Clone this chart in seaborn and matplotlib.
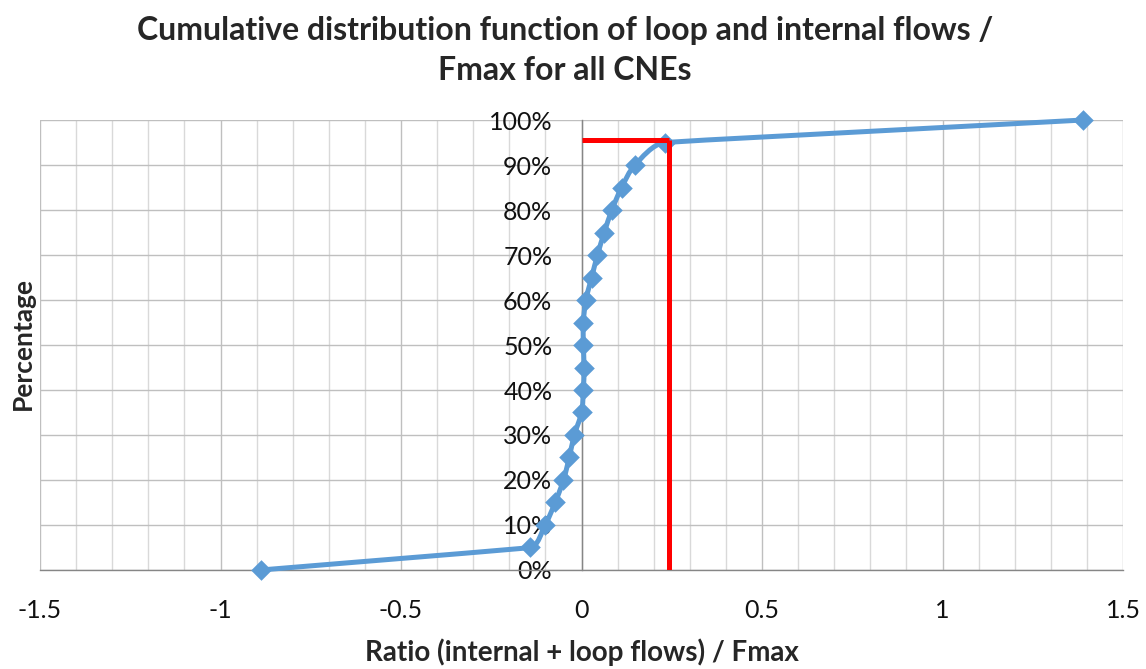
import matplotlib
matplotlib.use("Agg")
import matplotlib.pyplot as plt
from matplotlib.path import Path
from matplotlib.patches import PathPatch
from matplotlib.ticker import MultipleLocator, FuncFormatter
import numpy as np
import seaborn as sns
import pandas as pd

# Cumulative distribution of (internal + loop flows) / Fmax over all CNEs
ratio = [-0.888, -0.143, -0.101, -0.073, -0.050, -0.034, -0.020, 0.000, 0.005,
         0.007, 0.005, 0.005, 0.012, 0.028, 0.044, 0.063, 0.084, 0.111, 0.148,
         0.231, 1.389]
percentage = [0, 5, 10, 15, 20, 25, 30, 35, 40, 45, 50, 55, 60, 65, 70, 75, 80,
              85, 90, 95, 100]

# Highlighted 95th percentile marker
threshold_ratio = 0.242
threshold_pct = 95.5

x_ticks = [-1.5, -1.0, -0.5, 0.0, 0.5, 1.0, 1.5]
x_tick_labels = ["-1.5", "-1", "-0.5", "0", "0.5", "1", "1.5"]

LINE_BLUE = "#5b9bd5"

sns.set_theme(style="white")
plt.rcParams["font.family"] = ["Lato", "DejaVu Sans"]

df = pd.DataFrame({"ratio": ratio, "percentage": percentage})


def smooth_path(ax, xs, ys, k=1 / 3):
    """Smoothed curve through the points, built from cubic Bezier segments in
    screen space. Each handle follows the neighbour-to-neighbour tangent and
    its length is limited by the shorter of the two segments at that point."""
    pts = ax.transData.transform(np.column_stack([xs, ys]))
    n = len(pts)
    segs = [np.hypot(*(pts[i + 1] - pts[i])) for i in range(n - 1)]
    tang = []
    for i in range(n):
        a = pts[max(i - 1, 0)]
        b = pts[min(i + 1, n - 1)]
        d = b - a
        tang.append(d / np.hypot(*d))
    verts = [pts[0]]
    codes = [Path.MOVETO]
    for i in range(n - 1):
        out_len = min(segs[i], segs[i - 1]) if i > 0 else segs[i]
        in_len = min(segs[i], segs[i + 1]) if i + 1 < n - 1 else segs[i]
        verts += [pts[i] + tang[i] * out_len * k,
                  pts[i + 1] - tang[i + 1] * in_len * k,
                  pts[i + 1]]
        codes += [Path.CURVE4] * 3
    verts = ax.transData.inverted().transform(np.array(verts))
    return Path(verts, codes)


fig = plt.figure(figsize=(11.46, 6.69), dpi=100)
ax = fig.add_axes([0.0349, 0.148, 0.9451, 0.6726])

# grid: minor every 0.1, major every 0.5, horizontal every 10 %
ax.set_xlim(-1.5, 1.5)
ax.set_ylim(0, 100)
ax.xaxis.set_major_locator(MultipleLocator(0.5))
ax.xaxis.set_minor_locator(MultipleLocator(0.1))
ax.yaxis.set_major_locator(MultipleLocator(10))
ax.grid(which="minor", axis="x", color="#d9d9d9", linewidth=1.0)
ax.grid(which="major", axis="x", color="#bfbfbf", linewidth=1.0)
ax.grid(which="major", axis="y", color="#bfbfbf", linewidth=1.0)
ax.set_axisbelow(True)

# smoothed connecting line
ax.add_patch(PathPatch(smooth_path(ax, df["ratio"], df["percentage"]),
                       facecolor="none", edgecolor=LINE_BLUE, linewidth=3.6,
                       zorder=3, clip_on=False))

# diamond markers
sns.scatterplot(data=df, x="ratio", y="percentage", color=LINE_BLUE,
                marker="D", s=110, linewidth=0, ax=ax, clip_on=False,
                zorder=4, legend=False)

ax.plot([0, threshold_ratio], [threshold_pct, threshold_pct],
        color="#ff0000", linewidth=3.6, solid_capstyle="butt", zorder=5)
ax.plot([threshold_ratio, threshold_ratio], [0, threshold_pct],
        color="#ff0000", linewidth=3.6, solid_capstyle="butt", zorder=5)

for side in ("top", "right"):
    ax.spines[side].set_visible(False)
ax.spines["left"].set_position(("data", 0))
ax.spines["left"].set_color("#868686")
ax.spines["bottom"].set_color("#868686")
ax.spines["left"].set_linewidth(1.0)
ax.spines["bottom"].set_linewidth(1.0)

ax.set_xticks(x_ticks)
ax.set_xticklabels(x_tick_labels)
ax.tick_params(axis="x", which="major", direction="out", length=8, width=1,
               color="#868686", labelsize=18, pad=13)
ax.tick_params(axis="x", which="minor", length=0)
ax.tick_params(axis="y", length=0, labelsize=18, pad=21)
ax.yaxis.set_major_formatter(FuncFormatter(lambda v, p: f"{int(round(v))}%"))
for lbl in ax.get_yticklabels():
    lbl.set_color("#111111")
for lbl in ax.get_xticklabels():
    lbl.set_color("#111111")

ax.set_xlabel("Ratio (internal + loop flows) / Fmax", fontsize=20,
              fontweight="bold", labelpad=12)
ax.set_ylabel("")
fig.text(0.020, 0.486, "Percentage", rotation=90, fontsize=19,
         fontweight="bold", ha="center", va="center")

fig.suptitle("Cumulative distribution function of loop and internal flows /\nFmax for all CNEs",
             x=0.493, y=0.976, fontsize=23, fontweight="bold", linespacing=1.45)

fig.savefig("out.png", dpi=100)
